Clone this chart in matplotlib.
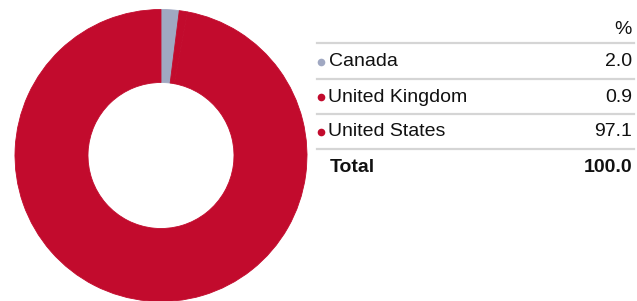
import matplotlib
matplotlib.use("Agg")
import matplotlib.pyplot as plt
from matplotlib.lines import Line2D

categories = ["Canada", "United Kingdom", "United States"]
values = [2.0, 0.9, 97.1]
value_labels = ["2.0", "0.9", "97.1"]
total_label = "100.0"
colors = ["#A0A8C2", "#C20B2D", "#C20B2D"]

W, H = 637, 301
fig = plt.figure(figsize=(W / 100, H / 100), dpi=100)
plt.rcParams['font.family'] = ['Liberation Sans', 'DejaVu Sans']

def fx(x):
    return x / W

def fy(y):
    return 1 - y / H

cx, cy, r = 161, 155.5, 146
ax = fig.add_axes([fx(cx - r), fy(cy + r), 2 * r / W, 2 * r / H])
wedges, _ = ax.pie(values, colors=colors, startangle=90, counterclock=False,
                   wedgeprops=dict(width=0.5), radius=1)
for w, c in zip(wedges, colors):
    w.set_edgecolor(c)
    w.set_linewidth(0.6)
ax.set_xlim(-1, 1)
ax.set_ylim(-1, 1)
ax.set_aspect('auto')
ax.axis('off')

# table
x0, x1 = 317, 634
fs = 14
fig.text(fx(x1 - 2), fy(30), "%", ha='right', va='center', fontsize=fs, color='#111111')
line_ys = [43, 79, 114, 149]
for ly in line_ys:
    fig.add_artist(Line2D([fx(x0), fx(x1)], [fy(ly), fy(ly)], color='#D5D5D5', lw=1.6))
row_ys = [62, 97, 132]
for name, lab, col, ry in zip(categories, value_labels, colors, row_ys):
    fig.add_artist(Line2D([fx(321)], [fy(ry)], marker='o', markersize=5.5,
                          color=col, markeredgewidth=0, linestyle='none'))
    fig.text(fx(328.5), fy(ry), name, ha='left', va='center', fontsize=fs, color='#111111')
    fig.text(fx(x1 - 2), fy(ry), lab, ha='right', va='center', fontsize=fs, color='#111111')
fig.text(fx(330), fy(167), "Total", ha='left', va='center', fontsize=fs,
         fontweight='bold', color='#111111')
fig.text(fx(x1 - 2), fy(167), total_label, ha='right', va='center', fontsize=fs,
         fontweight='bold', color='#111111')

fig.savefig("out.png", dpi=100)
